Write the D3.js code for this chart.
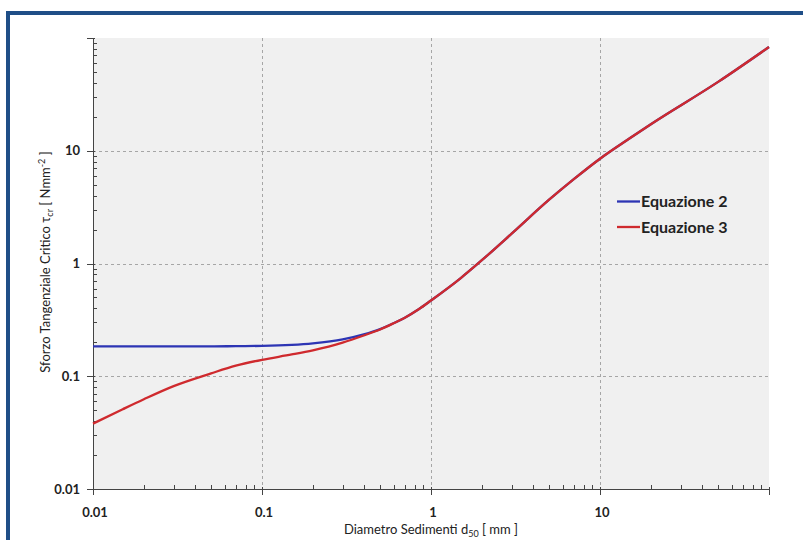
<!DOCTYPE html>
<html><head><meta charset="utf-8">
<script src="https://cdn.jsdelivr.net/npm/d3@7"></script>
<style>
body{margin:0;background:#fff;}
svg{display:block;font-family:Lato,"Open Sans",sans-serif;}
</style></head><body>
<svg id="c" width="803" height="540"></svg>
<script>
const diam = [0.01,0.015,0.02,0.03,0.05,0.07,0.1,0.15,0.2,0.3,0.4,0.5,0.6,0.7,0.85,1,1.5,2,3,5,7,10,15,20,50,100];
const eq3 = [0.038,0.051,0.0625,0.0817,0.106,0.124,0.14,0.156,0.17,0.199,0.23,0.26,0.295,0.331,0.395,0.47,0.743,1.07,1.84,3.68,5.6,8.5,12.9,17.2,40.8,83.2];
const eq2 = [0.184,0.184,0.184,0.184,0.184,0.185,0.186,0.19,0.196,0.212,0.235,0.262,0.295,0.331,0.395,0.47,0.743,1.07,1.84,3.68,5.6,8.5,12.9,17.2,40.8,83.2];
const xTicks = [0.01,0.1,1,10];
const yTicks = [0.01,0.1,1,10];
const seriesNames = ["Equazione 2","Equazione 3"];
const seriesColors = ["#2d35b4","#cf2a2e"];

const svg = d3.select("#c");
svg.append("path").attr("d","M8,540 L8,13 L803,13").attr("fill","none").attr("stroke","#1f4e87").attr("stroke-width",4);

const L=93,R=769,T=38,B=489;
const x = d3.scaleLog().domain([0.01,100]).range([L,R]);
const y = d3.scaleLog().domain([0.01,100]).range([B,T]);

svg.append("rect").attr("x",L).attr("y",T).attr("width",R-L).attr("height",B-T).attr("fill","#f0f0f0");

const g = svg.append("g");
[0.1,1,10].forEach(v=>{
  g.append("line").attr("x1",Math.round(x(v))+0.5).attr("x2",Math.round(x(v))+0.5).attr("y1",T).attr("y2",B)
   .attr("stroke","#a6a6a6").attr("stroke-dasharray","3,3");
  g.append("line").attr("x1",L).attr("x2",R).attr("y1",Math.round(y(v))+0.5).attr("y2",Math.round(y(v))+0.5)
   .attr("stroke","#a6a6a6").attr("stroke-dasharray","3,3");
});

const minors=[];
for(let e=-2;e<2;e++) for(let m=2;m<=9;m++) minors.push(m*Math.pow(10,e));
const ax = svg.append("g").attr("stroke","#444").attr("stroke-width",1);
ax.append("line").attr("x1",L).attr("x2",R).attr("y1",B+0.5).attr("y2",B+0.5);
ax.append("line").attr("x1",L+0.5).attr("x2",L+0.5).attr("y1",T).attr("y2",B);
minors.forEach(v=>{
  ax.append("line").attr("x1",Math.round(x(v))+0.5).attr("x2",Math.round(x(v))+0.5).attr("y1",B-4).attr("y2",B);
  ax.append("line").attr("x1",L).attr("x2",L+4).attr("y1",Math.round(y(v))+0.5).attr("y2",Math.round(y(v))+0.5);
});
[0.01,0.1,1,10,100].forEach(v=>{
  ax.append("line").attr("x1",Math.round(x(v))+0.5).attr("x2",Math.round(x(v))+0.5).attr("y1",B-2).attr("y2",B+6);
  ax.append("line").attr("x1",L-6).attr("x2",L+2).attr("y1",Math.round(y(v))+0.5).attr("y2",Math.round(y(v))+0.5);
});

const fmt = v=>String(v);
svg.append("g").selectAll("text").data(xTicks).join("text")
  .attr("x",d=>x(d)+2).attr("y",517).attr("text-anchor","middle")
  .attr("font-size",13).attr("font-weight","bold").attr("fill","#222").text(fmt);
svg.append("g").selectAll("text").data(yTicks).join("text")
  .attr("x",80).attr("y",d=>y(d)+4.5).attr("text-anchor","end")
  .attr("font-size",13).attr("font-weight","bold").attr("fill","#222").text(fmt);

const xt = svg.append("text").attr("x",431).attr("y",534).attr("text-anchor","middle")
  .attr("font-size",13).attr("fill","#222");
xt.append("tspan").text("Diametro Sedimenti d");
xt.append("tspan").attr("font-size",9).attr("dy",3).text("50");
xt.append("tspan").attr("dy",-3).text(" [ mm ]");

const yt = svg.append("text").attr("transform","translate(50,262) rotate(-90)").attr("text-anchor","middle")
  .attr("font-size",13).attr("fill","#222");
yt.append("tspan").text("Sforzo Tangenziale Critico τ");
yt.append("tspan").attr("font-size",9).attr("dy",3).text("cr");
yt.append("tspan").attr("dy",-3).text(" [ Nmm");
yt.append("tspan").attr("font-size",9).attr("dy",-5).text("-2");
yt.append("tspan").attr("dy",5).text(" ]");

const line = d3.line().x(d=>x(d[0])).y(d=>y(d[1])).curve(d3.curveMonotoneX);
[eq2,eq3].forEach((s,i)=>{
  svg.append("path").datum(diam.map((d,j)=>[d,s[j]])).attr("d",line)
    .attr("fill","none").attr("stroke",seriesColors[i]).attr("stroke-width",2.3);
});

seriesNames.forEach((n,i)=>{
  const yy = 201.5 + i*25.5;
  svg.append("line").attr("x1",617).attr("x2",640).attr("y1",yy).attr("y2",yy)
    .attr("stroke",seriesColors[i]).attr("stroke-width",2.3);
  svg.append("text").attr("x",641).attr("y",yy+5.5).attr("font-size",16).attr("font-weight","bold")
    .attr("fill","#222").text(n);
});
</script></body></html>
